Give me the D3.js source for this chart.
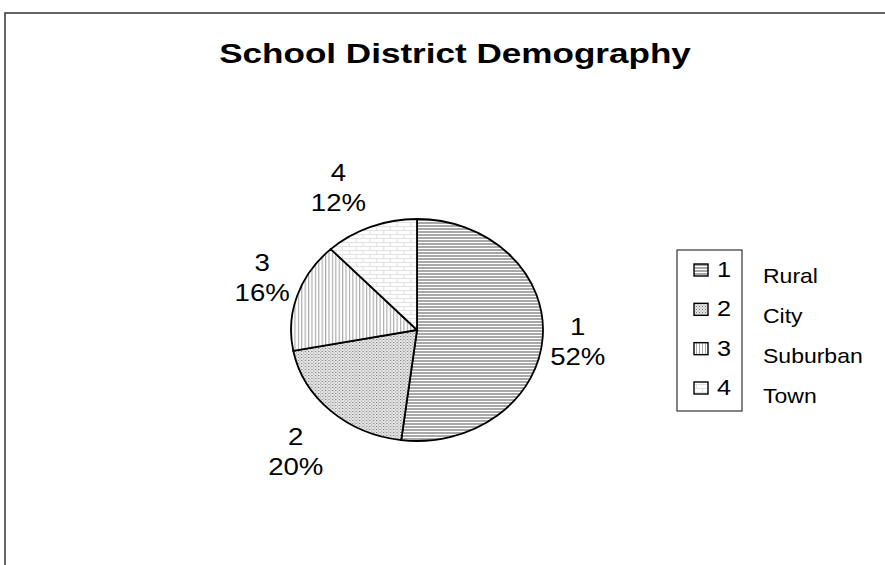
<!DOCTYPE html>
<html>
<head>
<meta charset="utf-8">
<script src="https://cdn.jsdelivr.net/npm/d3@7"></script>
<style>
  body { margin: 0; background: #fff; }
  text { font-family: "Liberation Sans", Arial, sans-serif; fill: #000; }
</style>
</head>
<body>
<svg width="885" height="565"></svg>
<script>
      const ids = ['1', '2', '3', '4'];
      const names = ['Rural', 'City', 'Suburban', 'Town'];
      const shares = [52, 20, 16, 12];
      const title = 'School District Demography';

      const svg = d3.select('svg');
      const cx = 417, cy = 330, rx = 126, ry = 111;
      const sx = 1.15; // the whole picture is a bit wider than tall

      // text drawn at (x,y) and stretched sideways around its anchor
      const label = (parent, x, y, txt, size, anchor, k) =>
        parent.append('text')
            .attr('transform', `translate(${x},${y}) scale(${k || sx},1)`)
            .attr('text-anchor', anchor || 'start')
            .attr('font-size', size)
            .text(txt);

      // outer frame (runs off the right and bottom edge)
      svg.append('rect')
          .attr('x', 5).attr('y', 13)
          .attr('width', 900).attr('height', 600)
          .attr('fill', 'none')
          .attr('stroke', '#333')
          .attr('stroke-width', 1.5);

      label(svg, 455, 63, title, 27, 'middle', 1.3)
          .attr('font-weight', 'bold');

      // fill patterns
      const defs = svg.append('defs');
      const p1 = defs.append('pattern').attr('id', 'pat0')
          .attr('patternUnits', 'userSpaceOnUse').attr('width', 4).attr('height', 3);
      p1.append('rect').attr('width', 4).attr('height', 3).attr('fill', '#fff');
      p1.append('rect').attr('width', 4).attr('height', 2).attr('fill', '#a8a8a8');

      const p2 = defs.append('pattern').attr('id', 'pat1')
          .attr('patternUnits', 'userSpaceOnUse').attr('width', 3).attr('height', 3);
      p2.append('rect').attr('width', 3).attr('height', 3).attr('fill', '#e6e6e6');
      p2.append('rect').attr('width', 1).attr('height', 1).attr('fill', '#777');
      p2.append('rect').attr('x', 1.5).attr('y', 1.5).attr('width', 1).attr('height', 1).attr('fill', '#999');

      const p3 = defs.append('pattern').attr('id', 'pat2')
          .attr('patternUnits', 'userSpaceOnUse').attr('width', 3).attr('height', 3);
      p3.append('rect').attr('width', 3).attr('height', 3).attr('fill', '#fff');
      p3.append('rect').attr('width', 1).attr('height', 3).attr('fill', '#aaa');

      const p4 = defs.append('pattern').attr('id', 'pat3')
          .attr('patternUnits', 'userSpaceOnUse').attr('width', 12).attr('height', 8);
      p4.append('rect').attr('width', 12).attr('height', 8).attr('fill', '#fff');
      p4.append('path')
          .attr('d', 'M0,0.5H12M0,4.5H12M0.5,0V4M6.5,4V8')
          .attr('stroke', '#e2e2e2').attr('stroke-width', 1).attr('fill', 'none');

      const pie = d3.pie().sort(null).value(d => d);
      const arcs = pie(shares);
      const arc = d3.arc().innerRadius(0).outerRadius(ry);

      const g = svg.append('g')
          .attr('transform', `translate(${cx},${cy}) scale(${rx / ry},1)`);
      g.selectAll('path').data(arcs)
        .enter().append('path')
          .attr('d', arc)
          .attr('fill', (d, i) => `url(#pat${i})`)
          .attr('stroke', '#000')
          .attr('stroke-width', 1.8)
          .attr('vector-effect', 'non-scaling-stroke');

      // slice labels: box pushed out from the rim along the mid angle
      const boxW = 35, boxH = 40;
      const push = (v, k) => Math.sign(v) * Math.min(1, k * Math.abs(v));
      arcs.forEach((d, i) => {
        const a = (d.startAngle + d.endAngle) / 2;
        const s = Math.sin(a), c = -Math.cos(a);
        const x = cx + rx * s + boxW * push(s, 2.5);
        const y = cy + ry * c + boxH * push(c, 1.5);
        label(svg, x, y - 6, ids[i], 24, 'middle');
        label(svg, x, y + 24, shares[i] + '%', 24, 'middle');
      });

      // legend
      const legY = d3.scalePoint().domain(ids).range([277, 395]);
      const leg = svg.append('g');
      leg.append('rect')
          .attr('x', 677).attr('y', 250)
          .attr('width', 65).attr('height', 161)
          .attr('fill', '#fff')
          .attr('stroke', '#333')
          .attr('stroke-width', 1.2);
      ids.forEach((id, i) => {
        leg.append('rect')
            .attr('x', 694).attr('y', legY(id) - 13)
            .attr('width', 14).attr('height', 12)
            .attr('fill', `url(#pat${i})`)
            .attr('stroke', '#000')
            .attr('stroke-width', 1.4);
        label(leg, 717, legY(id), id, 22);
      });

      const nameY = d3.scalePoint().domain(names).range([283, 403]);
      names.forEach(n => label(svg, 763, nameY(n), n, 20));
</script>
</body>
</html>
